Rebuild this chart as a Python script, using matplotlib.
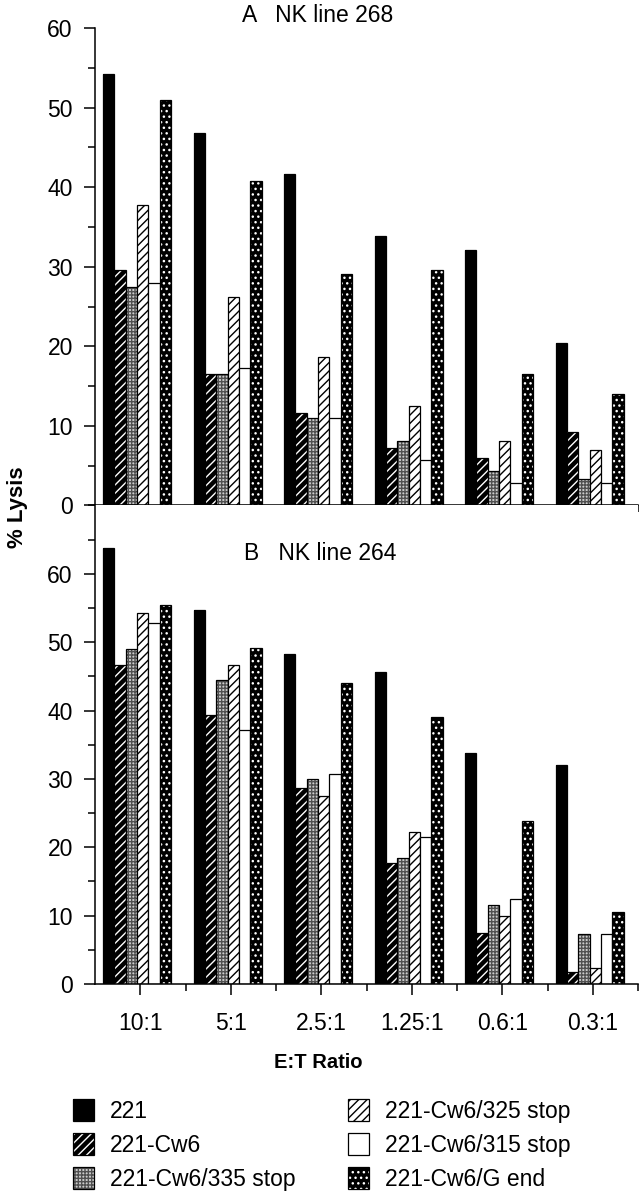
import numpy as np
import matplotlib
matplotlib.use("Agg")
import matplotlib.pyplot as plt
from matplotlib.patches import Patch
from matplotlib.legend_handler import HandlerTuple
from matplotlib.ticker import MultipleLocator

plt.rcParams["font.family"] = ["Liberation Sans", "DejaVu Sans"]
plt.rcParams["hatch.linewidth"] = 1.0

# ── data ─────────────────────────────────────────────────────────────────────
ratios = ["10:1", "5:1", "2.5:1", "1.25:1", "0.6:1", "0.3:1"]
series = ["221", "221-Cw6", "221-Cw6/335 stop",
          "221-Cw6/325 stop", "221-Cw6/315 stop", "221-Cw6/G end"]

# NK line 268 (% lysis), one list per target
a_221 = [54.2, 46.8, 41.6, 33.9, 32.1, 20.4]
a_cw6 = [29.6, 16.5, 11.6, 7.2, 6.0, 9.2]
a_335 = [27.5, 16.5, 11.0, 8.1, 4.3, 3.3]
a_325 = [37.7, 26.2, 18.7, 12.5, 8.1, 7.0]
a_315 = [27.9, 17.3, 11.0, 5.7, 2.8, 2.8]
a_gend = [50.9, 40.8, 29.1, 29.6, 16.5, 14.0]

# NK line 264 (% lysis)
b_221 = [63.8, 54.7, 48.3, 45.7, 33.8, 32.0]
b_cw6 = [46.6, 39.4, 28.7, 17.7, 7.4, 1.7]
b_335 = [49.0, 44.5, 30.0, 18.5, 11.5, 7.3]
b_325 = [54.3, 46.7, 27.5, 22.3, 9.9, 2.4]
b_315 = [52.8, 37.1, 30.7, 21.5, 12.5, 7.3]
b_gend = [55.5, 49.2, 44.1, 39.0, 23.8, 10.5]

panel_a = [a_221, a_cw6, a_335, a_325, a_315, a_gend]
panel_b = [b_221, b_cw6, b_335, b_325, b_315, b_gend]

# fill colour, hatch colour, hatch
styles = [
    ("black", "black", None),
    ("black", "white", "////"),
    ("#cccccc", "#505050", "+++++"),
    ("white", "black", "////"),
    ("white", "black", None),
    ("black", "white", "..."),
]

W, H = 643, 1199
fig = plt.figure(figsize=(W / 100, H / 100), dpi=100)

left, right = 95, 638
ax_a = fig.add_axes([left / W, 1 - 505.5 / H, (right - left) / W, (505.5 - 28) / H])
ax_b = fig.add_axes([left / W, 1 - 984 / H, (right - left) / W, (984 - 505.5) / H])

x = np.arange(len(ratios))
bw = 0.125
shift = -0.035
FS = 16.5


def draw_panel(ax, values, ymax):
    for i, (vals, (fc, hc, hatch)) in enumerate(zip(values, styles)):
        xs = x + shift + (i - 2.5) * bw
        ax.bar(xs, vals, bw, color=fc, edgecolor=hc, hatch=hatch, linewidth=0)
        ax.bar(xs, vals, bw, fill=False, edgecolor="black", linewidth=0.9)
    ax.set_xlim(-0.5, 5.5)
    ax.set_ylim(0, ymax)
    ax.spines[["top", "right"]].set_visible(False)
    for s in ("left", "bottom"):
        ax.spines[s].set_linewidth(1.1)
    ax.yaxis.set_major_locator(MultipleLocator(10))
    ax.yaxis.set_minor_locator(MultipleLocator(5))
    ax.set_xticks(x)
    ax.set_xticks(np.arange(0.5, 5.6, 1.0), minor=True)
    ax.tick_params(which="major", length=8, width=1.1, labelsize=FS, pad=8)
    ax.tick_params(which="minor", length=5, width=1.1)


draw_panel(ax_a, panel_a, 60)
draw_panel(ax_b, panel_b, 70)
ax_a.set_xticklabels([])
ax_b.set_yticks(np.arange(0, 61, 10))
ax_b.set_xticklabels(ratios)
ax_b.tick_params(axis="x", pad=12)

fig.text(318 / W, 1 - 16 / H, "A   NK line 268", ha="center", va="center", fontsize=FS)
fig.text(320 / W, 1 - 553 / H, "B   NK line 264", ha="center", va="center", fontsize=FS)
fig.text(17 / W, 1 - 507 / H, "% Lysis", rotation=90, ha="center", va="center",
         fontsize=16, fontweight="bold")
fig.text(318 / W, 1 - 1063 / H, "E:T Ratio", ha="center", va="center",
         fontsize=14.5, fontweight="bold")

handles = []
for fc, hc, hatch in styles:
    fill = Patch(facecolor=fc, edgecolor=hc, hatch=hatch, linewidth=0)
    edge = Patch(facecolor="none", edgecolor="black", linewidth=0.9)
    handles.append((fill, edge))

fig.legend(handles, series, ncol=2, loc="upper left",
           bbox_to_anchor=(64 / W, 1 - 1090 / H),
           handler_map={tuple: HandlerTuple(ndivide=1, pad=0)},
           frameon=False, fontsize=FS, handlelength=0.9, handleheight=1.1,
           handletextpad=0.7, labelspacing=0.45, columnspacing=2.3,
           borderaxespad=0)

fig.savefig("out.png", dpi=100)
